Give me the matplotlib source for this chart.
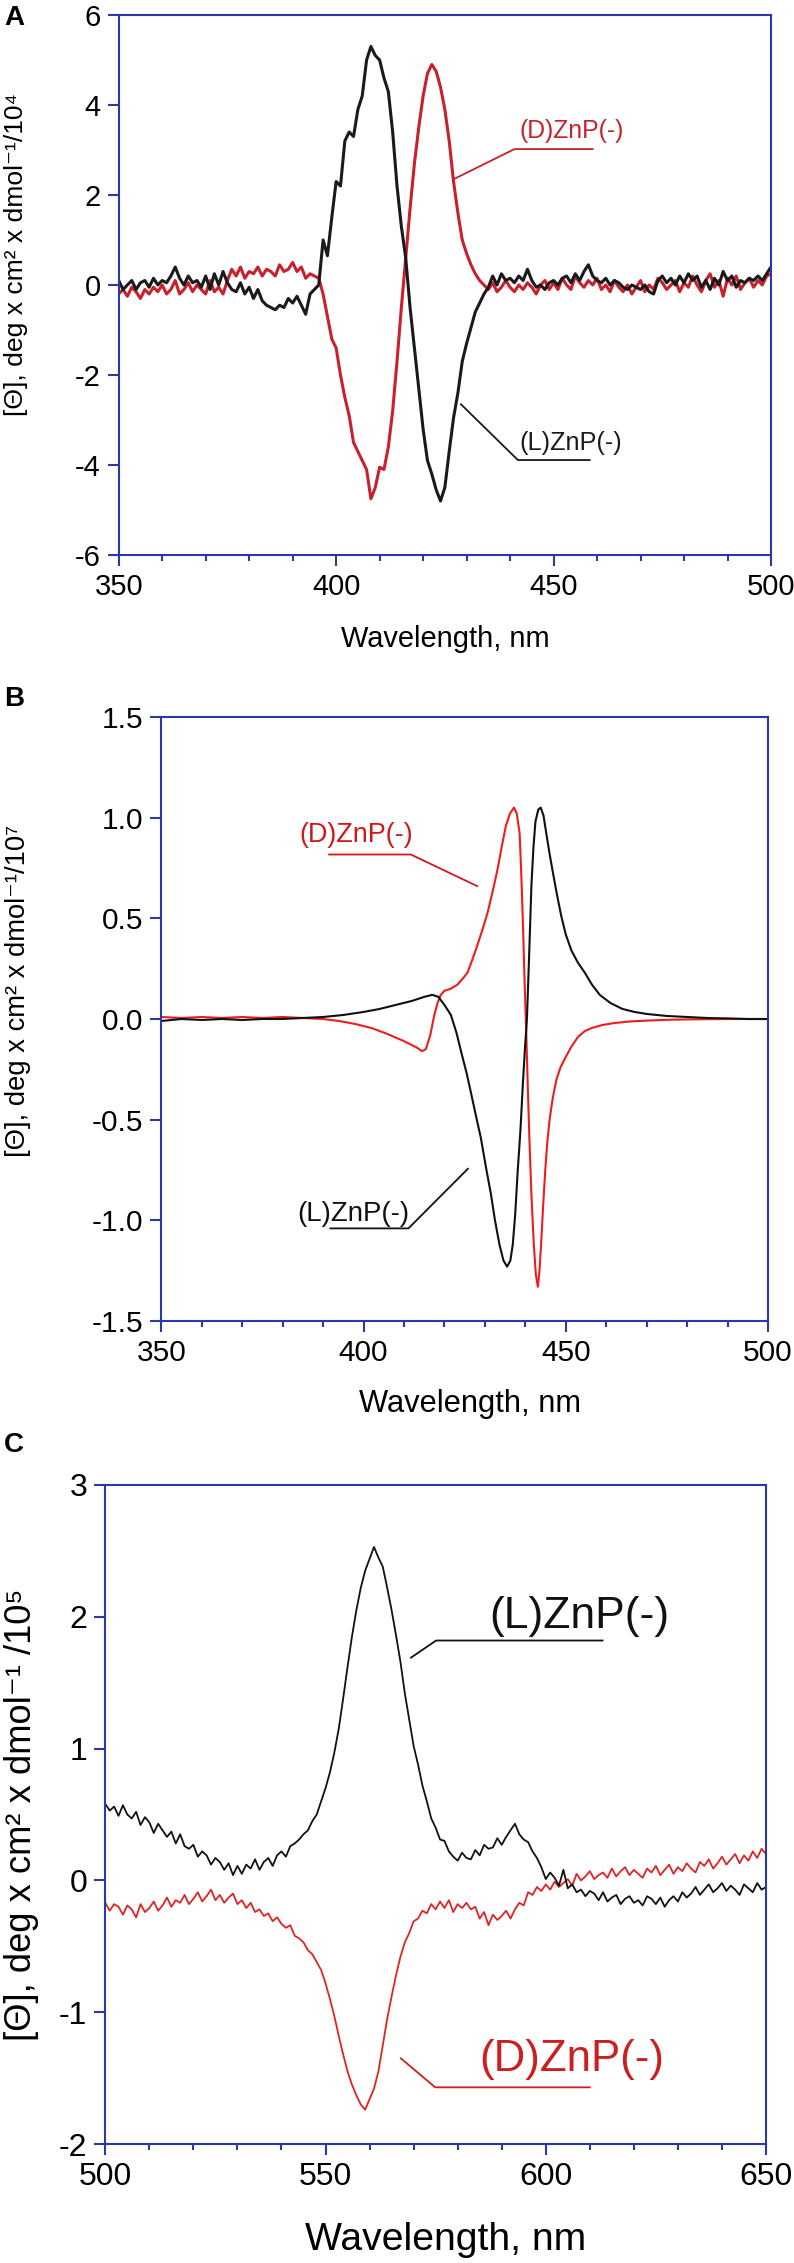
import matplotlib
matplotlib.use("Agg")
import matplotlib.pyplot as plt
from matplotlib.ticker import MultipleLocator, FormatStrFormatter

plt.rcParams['font.family'] = ['Liberation Sans', 'DejaVu Sans']
plt.rcParams['axes.unicode_minus'] = False

AXIS_BLUE = '#2b39a6'

# ---------------- panel A data (nm, 1 nm step) ----------------
a_wl = list(range(350, 501))
a_L = [0.1, -0.1, 0.0, 0.1, -0.1, 0.05, 0.1, -0.05, 0.15, 0.0,
       0.1, 0.05, 0.2, 0.4, 0.15, 0.0, 0.2, 0.05, 0.1, -0.05,
       0.2, -0.1, 0.25, 0.0, 0.3, 0.05, -0.1, -0.15, 0.05, -0.2,
       -0.05, -0.3, -0.1, -0.35, -0.45, -0.5, -0.55, -0.45, -0.5, -0.3,
       -0.4, -0.25, -0.45, -0.65, -0.2, -0.1, 0.0, 1.0, 0.65, 1.5,
       2.3, 2.2, 3.2, 3.4, 3.3, 3.9, 4.2, 5.0, 5.3, 5.1,
       5.0, 4.6, 4.3, 3.4, 2.2, 1.3, 0.6, -0.5, -1.4, -2.3,
       -3.2, -3.9, -4.2, -4.55, -4.8, -4.5, -3.7, -2.95, -2.4, -1.7,
       -1.3, -0.95, -0.6, -0.4, -0.2, -0.05, 0.2, 0.0, 0.25, 0.1,
       0.15, 0.05, 0.2, 0.1, 0.35, 0.1, -0.05, 0.0, -0.1, 0.05,
       0.1, 0.0, 0.15, 0.2, 0.05, 0.25, 0.1, 0.3, 0.45, 0.2,
       0.1, 0.05, 0.15, 0.0, 0.1, 0.05, -0.05, -0.1, 0.0, -0.05,
       -0.1, 0.0, -0.15, -0.2, 0.1, 0.2, 0.05, 0.15, 0.0, 0.2,
       0.05, 0.25, 0.1, 0.2, -0.05, 0.1, -0.1, 0.15, 0.0, 0.3,
       0.1, 0.2, -0.05, 0.1, 0.05, 0.15, 0.1, 0.2, 0.1, 0.25,
       0.4]
a_D = [-0.2, -0.1, -0.25, -0.05, -0.15, -0.3, -0.1, -0.2, -0.05, -0.15,
       0.0, -0.2, -0.1, 0.1, -0.2, -0.1, 0.05, -0.15, 0.0, -0.1,
       -0.2, 0.1, -0.15, -0.05, -0.2, 0.1, 0.35, 0.2, 0.4, 0.15,
       0.3, 0.25, 0.4, 0.2, 0.35, 0.3, 0.2, 0.45, 0.3, 0.35,
       0.5, 0.3, 0.4, 0.15, 0.25, 0.2, 0.15, -0.2, -0.7, -1.2,
       -1.4, -2.0, -2.5, -2.9, -3.5, -3.7, -3.9, -4.1, -4.75, -4.5,
       -4.05, -4.1, -3.6, -2.8, -1.7, -0.5, 0.6, 1.7, 2.7, 3.5,
       4.2, 4.7, 4.9, 4.75, 4.4, 3.9, 3.2, 2.3, 1.6, 1.0,
       0.7, 0.45, 0.25, 0.1, 0.0, -0.1, 0.05, -0.15, -0.05, 0.1,
       -0.05, -0.15, 0.0, -0.1, 0.05, -0.05, -0.2, 0.0, 0.1, -0.1,
       0.05, -0.1, 0.15, 0.0, -0.1, 0.2, 0.05, -0.05, 0.1, 0.0,
       0.15, -0.1, 0.0, -0.15, 0.1, -0.05, -0.15, 0.0, -0.2, -0.05,
       0.1, -0.15, 0.0, -0.1, 0.15, 0.05, -0.1, 0.0, 0.1, -0.15,
       0.05, -0.05, 0.2, 0.0, -0.15, 0.1, 0.25, -0.05, 0.1, -0.25,
       0.15, 0.0, 0.2, -0.1, 0.05, 0.15, -0.05, 0.1, 0.0, 0.2,
       0.25]

# ---------------- panel B data ----------------
b_wl_L = [350, 355, 360, 365, 370, 375, 380, 385, 390, 395, 400, 404, 408, 412,
          415, 417, 418.5, 420, 421.6, 423, 424.1, 425.5, 426.6, 428, 429, 430.3,
          431.5, 432.5, 433.6, 434.6, 435.5, 436.3, 436.9, 437.5, 438.1, 438.8,
          439.4, 439.9, 440.4, 441, 441.5, 442, 442.5, 443.2, 443.8, 444.5, 445.2,
          446, 446.8, 447.8, 448.9, 450, 451.4, 453, 454.7, 456.5, 458.4, 461,
          464, 467, 470, 475, 480, 485, 490, 495, 500]
b_L = [-0.01, 0.0, -0.005, 0.0, -0.005, 0.0, 0.0, 0.005, 0.01, 0.02, 0.035, 0.05,
       0.07, 0.09, 0.11, 0.12, 0.11, 0.07, 0.02, -0.07, -0.16, -0.27, -0.37, -0.5,
       -0.59, -0.74, -0.87, -1.0, -1.12, -1.2, -1.23, -1.2, -1.12, -0.97, -0.76,
       -0.55, -0.32, -0.15, 0.0, 0.35, 0.66, 0.85, 0.98, 1.04, 1.05, 1.01, 0.92,
       0.82, 0.73, 0.62, 0.51, 0.42, 0.34, 0.28, 0.23, 0.17, 0.12, 0.08, 0.05,
       0.035, 0.025, 0.015, 0.01, 0.005, 0.003, 0.0, 0.0]
b_wl_D = [350, 355, 360, 365, 370, 375, 380, 385, 390, 394, 398, 402, 406, 410,
          413, 414.5, 415.4, 416.5, 417.5, 418.3, 419.1, 420, 421.5, 423.2, 424.5,
          425.7, 427, 428.2, 429.5, 430.7, 432, 433.2, 434.2, 435.2, 436.2, 437.2,
          437.9, 438.6, 439, 439.4, 439.8, 440.2, 440.6, 441, 441.5, 442.1, 442.6,
          443.1, 443.5, 443.9, 444.4, 444.9, 445.4, 446, 446.8, 447.7, 448.7,
          449.7, 451.3, 453, 454.7, 456.4, 459, 462, 466, 470, 475, 480, 490, 500]
b_D = [0.01, 0.005, 0.01, 0.005, 0.01, 0.005, 0.01, 0.005, 0.0, -0.01, -0.025,
       -0.045, -0.075, -0.11, -0.14, -0.16, -0.15, -0.08, 0.02, 0.08, 0.12, 0.14,
       0.15, 0.17, 0.2, 0.23, 0.3, 0.37, 0.45, 0.53, 0.64, 0.75, 0.86, 0.96, 1.02,
       1.05, 1.02, 0.92, 0.72, 0.48, 0.2, -0.05, -0.33, -0.59, -0.87, -1.12, -1.27,
       -1.33, -1.25, -1.12, -0.93, -0.76, -0.62, -0.5, -0.39, -0.3, -0.24, -0.2,
       -0.14, -0.09, -0.06, -0.045, -0.03, -0.02, -0.012, -0.008, -0.004, -0.002,
       0.0, 0.0]

# ---------------- panel C data (nm, 1 nm step) ----------------
c_wl = list(range(500, 651))
c_L = [0.58, 0.53, 0.56, 0.49, 0.57, 0.50, 0.47, 0.52, 0.42, 0.48,
       0.44, 0.36, 0.43, 0.38, 0.33, 0.37, 0.28, 0.35, 0.26, 0.24,
       0.27, 0.18, 0.22, 0.19, 0.12, 0.17, 0.14, 0.08, 0.13, 0.04,
       0.11, 0.05, 0.12, 0.09, 0.16, 0.08, 0.14, 0.17, 0.11, 0.19,
       0.22, 0.18, 0.26, 0.28, 0.31, 0.35, 0.38, 0.45, 0.50, 0.60,
       0.70, 0.82, 0.97, 1.15, 1.38, 1.62, 1.85, 2.05, 2.22, 2.35,
       2.44, 2.53, 2.45, 2.38, 2.22, 2.05, 1.86, 1.66, 1.42, 1.22,
       1.02, 0.88, 0.72, 0.60, 0.47,
       0.40, 0.31, 0.30, 0.22, 0.18, 0.15, 0.21, 0.17, 0.16, 0.23,
       0.19, 0.27, 0.24, 0.25, 0.32, 0.27, 0.33, 0.38, 0.43, 0.35,
       0.31, 0.29, 0.22, 0.17, 0.10,
       0.01, 0.06, 0.02, -0.04, 0.08, -0.06, -0.03, -0.09, -0.07, -0.12,
       -0.08, -0.10, -0.15, -0.09, -0.16, -0.13, -0.11, -0.18, -0.14, -0.12,
       -0.17, -0.15, -0.19, -0.12, -0.14, -0.18, -0.13, -0.20, -0.15, -0.12,
       -0.16, -0.09, -0.13, -0.10, -0.05, -0.11, -0.07, -0.03, -0.09, -0.06,
       -0.02, -0.08, -0.04, -0.07, -0.11, -0.03, -0.06, -0.09, -0.02, -0.07,
       -0.05]
c_D = [-0.17, -0.23, -0.18, -0.20, -0.26, -0.19, -0.22, -0.28, -0.18, -0.24,
       -0.21, -0.16, -0.23, -0.19, -0.13, -0.20, -0.15, -0.17, -0.11, -0.18,
       -0.14, -0.09, -0.16, -0.12, -0.07, -0.15, -0.11, -0.17, -0.13, -0.10,
       -0.18, -0.15, -0.21, -0.17, -0.24, -0.22, -0.27, -0.25, -0.31, -0.28,
       -0.33, -0.36, -0.34, -0.42, -0.44, -0.47, -0.53, -0.56, -0.62, -0.68,
       -0.78, -0.90, -1.03, -1.18, -1.32, -1.45, -1.55, -1.63, -1.70, -1.74,
       -1.66, -1.58, -1.45, -1.25, -1.05, -0.88, -0.72, -0.58, -0.47, -0.40,
       -0.31, -0.29, -0.23, -0.25, -0.18,
       -0.22, -0.16, -0.21, -0.15, -0.24, -0.18, -0.21, -0.17, -0.22, -0.20,
       -0.29, -0.24, -0.34, -0.26, -0.30, -0.27, -0.23, -0.29, -0.22, -0.17,
       -0.19, -0.09, -0.11, -0.05, -0.08,
       -0.03, -0.07, -0.01, -0.05, -0.02, 0.01, -0.04, 0.05, 0.00, 0.03,
       0.07, 0.01, 0.04, 0.06, 0.02, 0.09, 0.03, 0.07, 0.10, 0.04,
       0.08, 0.05, 0.02, 0.09, 0.06, 0.11, 0.04, 0.08, 0.12, 0.05,
       0.10, 0.07, 0.13, 0.09, 0.06, 0.14, 0.11, 0.16, 0.09, 0.13,
       0.18, 0.12, 0.16, 0.20, 0.13, 0.19, 0.15, 0.22, 0.17, 0.24,
       0.20]

W, H = 794, 2263
fig = plt.figure(figsize=(W / 100, H / 100), dpi=100)
renderer = fig.canvas.get_renderer()


def rect(l, t, r, b):
    return [l / W, 1 - b / H, (r - l) / W, (b - t) / H]


def fit(txt, target, vertical=False):
    # scale font so the text spans about `target` pixels
    for _ in range(3):
        bb = txt.get_window_extent(renderer)
        size = bb.height if vertical else bb.width
        txt.set_fontsize(txt.get_fontsize() * target / size)
    return txt


def style(ax, fs, major, minor, ylim, ystep, yfmt):
    for s in ['top', 'right', 'left', 'bottom']:
        ax.spines[s].set_color(AXIS_BLUE)
        ax.spines[s].set_linewidth(1.5)
    ax.xaxis.set_major_locator(MultipleLocator(major))
    ax.xaxis.set_minor_locator(MultipleLocator(minor))
    ax.yaxis.set_major_locator(MultipleLocator(ystep))
    ax.yaxis.set_major_formatter(FormatStrFormatter(yfmt))
    ax.set_ylim(*ylim)
    ax.tick_params(which='both', direction='out', color=AXIS_BLUE, width=1.5,
                   labelsize=fs, top=False, right=False)
    ax.tick_params(which='major', length=8, pad=5)
    ax.tick_params(which='minor', length=4.5)


def ylabel(y, text, length, xc=17):
    t = fig.text(xc / W, 1 - y / H, text, rotation=90, fontsize=18,
                 ha='center', va='center')
    fit(t, length, vertical=True)


def xlabel(x, y, length):
    t = fig.text(x / W, 1 - y / H, 'Wavelength, nm', fontsize=20,
                 ha='center', va='center')
    fit(t, length)


def tag(ax, x, y, text, color, length):
    t = ax.text(x, y, text, color=color, fontsize=18, va='center')
    fit(t, length)


# ---------------- A ----------------
axA = fig.add_axes(rect(118.7, 15, 771, 555))
axA.plot(a_wl, a_D, color='#c8202c', lw=2.2)
axA.plot(a_wl, a_L, color='#1a1a1a', lw=2.2)
axA.set_xlim(350, 500)
style(axA, 21, 50, 10, (-6, 6), 2, '%d')
axA.plot([427.2, 441, 459], [2.36, 3.02, 3.02], color='#c8202c', lw=1.3)
tag(axA, 442.2, 3.43, '(D)ZnP(-)', '#c8202c', 105)
axA.plot([428.7, 441.8, 458.3], [-2.65, -3.89, -3.89], color='#1a1a1a', lw=1.3)
tag(axA, 442.2, -3.52, '(L)ZnP(-)', '#1a1a1a', 102)
ylabel(254, '[Θ], deg x cm² x dmol⁻¹/10⁴', 323, xc=16)
xlabel(445, 639, 208)
fig.text(14 / W, 1 - 18 / H, 'A', fontsize=20, fontweight='bold', ha='center', va='center')

# ---------------- B ----------------
axB = fig.add_axes(rect(161.3, 717, 768, 1321))
axB.plot(b_wl_D, b_D, color='#ee1c1c', lw=1.5)
axB.plot(b_wl_L, b_L, color='#111111', lw=1.5)
axB.set_xlim(350, 500)
style(axB, 21.5, 50, 10, (-1.5, 1.5), 0.5, '%.1f')
axB.plot([428.1, 411.7, 391.5], [0.66, 0.817, 0.817], color='#d01818', lw=1.3)
tag(axB, 384.1, 0.914, '(D)ZnP(-)', '#d01818', 114)
axB.plot([425.8, 411.1, 391.8], [-0.744, -1.04, -1.04], color='#111111', lw=1.3)
tag(axB, 383.5, -0.967, '(L)ZnP(-)', '#111111', 112)
ylabel(991, '[Θ], deg x cm² x dmol⁻¹/10⁷', 332, xc=18)
xlabel(470, 1404, 223)
fig.text(14 / W, 1 - 699 / H, 'B', fontsize=20, fontweight='bold', ha='center', va='center')

# ---------------- C ----------------
axC = fig.add_axes(rect(105.3, 1485, 766, 2144))
axC.plot(c_wl, c_D, color='#e02424', lw=1.3)
axC.plot(c_wl, c_L, color='#111111', lw=1.3)
axC.set_xlim(500, 650)
style(axC, 23, 50, 10, (-2, 3), 1, '%d')
axC.plot([569.4, 575.1, 612.9], [1.69, 1.82, 1.82], color='#111111', lw=1.3)
tag(axC, 587.2, 2.0, '(L)ZnP(-)', '#111111', 180)
axC.plot([567.1, 574.9, 610], [-1.35, -1.57, -1.57], color='#cc1f1f', lw=1.3)
tag(axC, 584.9, -1.36, '(D)ZnP(-)', '#cc1f1f', 185)
ylabel(1815, '[Θ], deg x cm² x dmol⁻¹ /10⁵', 453, xc=22)
xlabel(446, 2240, 281)
fig.text(14 / W, 1 - 1445 / H, 'C', fontsize=20, fontweight='bold', ha='center', va='center')

fig.savefig('out.png', dpi=100)
